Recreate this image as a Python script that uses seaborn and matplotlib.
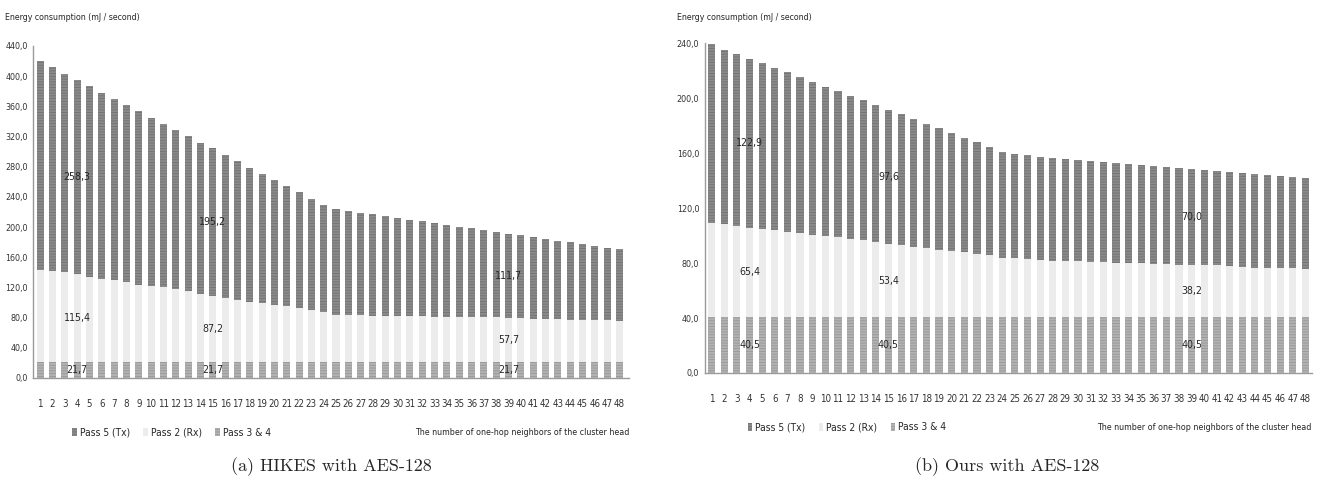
import matplotlib
matplotlib.use("Agg")
import matplotlib.pyplot as plt
import seaborn as sns
import pandas as pd
import numpy as np
from matplotlib.patches import Patch

# x categories: number of one-hop neighbours
neighbors = [str(i) for i in range(1, 49)]

# (a) HIKES with AES-128 (mJ / second)
hikes_tx = [276.2, 269.5, 263.3, 258.3, 252.7, 246.5, 240.3, 234.6, 229.7, 223.6,
            216.5, 210.3, 204.6, 200.6, 195.2, 189.1, 183.3, 178.0, 171.4, 165.7,
            159.1, 153.3, 147.1, 142.3, 140.5, 138.2, 136.1, 134.7, 132.1, 130.0,
            128.1, 125.9, 124.2, 121.6, 119.7, 118.0, 115.4, 113.1, 111.7, 110.0,
            107.8, 106.0, 104.3, 102.4, 99.8, 97.6, 95.9, 95.3]
hikes_rx = [121.8, 120.5, 118.3, 115.4, 112.1, 109.5, 107.7, 105.5, 102.0, 99.7,
            98.4, 96.2, 94.0, 89.6, 87.2, 84.7, 82.1, 79.0, 77.7, 75.0,
            73.2, 71.0, 68.8, 65.7, 62.2, 61.8, 61.3, 60.9, 60.9, 60.4,
            60.0, 60.0, 59.5, 59.5, 59.1, 59.1, 59.1, 58.7, 57.7, 57.3,
            56.9, 56.5, 56.0, 55.6, 55.6, 55.1, 54.7, 53.4]
hikes_p34 = [21.7, 21.7, 21.7, 21.7, 21.7, 21.7, 21.7, 21.7, 21.7, 21.7,
             21.7, 21.7, 21.7, 21.7, 21.7, 21.7, 21.7, 21.7, 21.7, 21.7,
             21.7, 21.7, 21.7, 21.7, 21.7, 21.7, 21.7, 21.7, 21.7, 21.7,
             21.7, 21.7, 21.7, 21.7, 21.7, 21.7, 21.7, 21.7, 21.7, 21.7,
             21.7, 21.7, 21.7, 21.7, 21.7, 21.7, 21.7, 21.7]

# (b) Ours with AES-128
ours_tx = [130.0, 127.2, 125.1, 122.9, 120.5, 118.3, 116.1, 113.7, 111.3, 108.9,
           106.4, 104.2, 102.0, 99.6, 97.6, 95.3, 93.1, 90.7, 88.3, 86.3,
           83.6, 81.2, 79.0, 77.1, 75.9, 75.8, 75.4, 75.2, 74.6, 74.2,
           73.7, 73.2, 73.0, 72.5, 72.0, 71.5, 71.0, 70.6, 70.0, 69.4,
           69.1, 68.6, 68.7, 68.4, 67.9, 67.4, 66.9, 66.7]
ours_rx = [68.8, 67.9, 66.9, 65.4, 64.5, 63.3, 62.3, 61.3, 60.3, 59.1,
           58.2, 57.0, 56.0, 54.8, 53.4, 52.6, 51.4, 50.4, 49.4, 48.2,
           47.3, 46.3, 45.1, 43.6, 42.9, 42.2, 41.7, 41.2, 41.0, 40.7,
           40.5, 40.2, 39.7, 39.5, 39.3, 39.0, 38.8, 38.5, 38.2, 38.0,
           37.8, 37.3, 36.8, 36.3, 36.1, 35.9, 35.6, 35.1]
ours_p34 = [40.5, 40.5, 40.5, 40.5, 40.5, 40.5, 40.5, 40.5, 40.5, 40.5,
            40.5, 40.5, 40.5, 40.5, 40.5, 40.5, 40.5, 40.5, 40.5, 40.5,
            40.5, 40.5, 40.5, 40.5, 40.5, 40.5, 40.5, 40.5, 40.5, 40.5,
            40.5, 40.5, 40.5, 40.5, 40.5, 40.5, 40.5, 40.5, 40.5, 40.5,
            40.5, 40.5, 40.5, 40.5, 40.5, 40.5, 40.5, 40.5]

hikes_yticks = [0, 40, 80, 120, 160, 200, 240, 280, 320, 360, 400, 440]
ours_yticks = [0, 40, 80, 120, 160, 200, 240]
labelled_bars = [3, 14, 38]  # bars 4, 15 and 39 carry value labels

series_names = ["Pass 5 (Tx)", "Pass 2 (Rx)", "Pass 3 & 4"]
ylabel = "Energy consumption (mJ / second)"
xlabel = "The number of one-hop neighbors of the cluster head"
captions = ["(a) HIKES with AES-128", "(b) Ours with AES-128"]

sns.set_style("white")
plt.rcParams["hatch.linewidth"] = 0.6
plt.rcParams["font.family"] = ["DejaVu Sans"]
plt.rcParams["font.stretch"] = "condensed"

DARK, DARK_H = "#8a8a8a", "#727272"
LIGHT = "#ececec"
MIDG, MIDG_H = "#b2b2b2", "#979797"


def comma(v):
    return f"{v:.1f}".replace(".", ",")


def draw(ax, tx, rx, p34, yticks, xlim, legend_x):
    tx, rx, p34 = np.array(tx), np.array(rx), np.array(p34)
    df = pd.DataFrame({"n": neighbors, "total": tx + rx + p34,
                       "mid": rx + p34, "low": p34})
    sns.barplot(data=df, x="n", y="total", color=DARK, saturation=1, width=0.57,
                hatch="------", edgecolor=DARK_H, linewidth=0, ax=ax)
    sns.barplot(data=df, x="n", y="mid", color=LIGHT, saturation=1, width=0.57,
                edgecolor=LIGHT, linewidth=0, ax=ax)
    sns.barplot(data=df, x="n", y="low", color=MIDG, saturation=1, width=0.57,
                hatch="------", edgecolor=MIDG_H, linewidth=0, ax=ax)
    for i in labelled_bars:
        ax.text(i, p34[i] / 2, comma(p34[i]), ha="center", va="center", fontsize=7.6)
        ax.text(i, p34[i] + rx[i] / 2, comma(rx[i]), ha="center", va="center",
                fontsize=7.6)
        ax.text(i, p34[i] + rx[i] + tx[i] / 2, comma(tx[i]), ha="center", va="center",
                fontsize=7.6)
    ax.set_ylim(yticks[0], yticks[-1])
    ax.set_yticks(yticks)
    ax.set_yticklabels([comma(t) for t in yticks], fontsize=6.4, color="#333333")
    ax.set_xlim(*xlim)
    ax.tick_params(axis="x", labelsize=7, colors="#333333", length=0, pad=15)
    ax.tick_params(axis="y", length=0, pad=4)
    ax.set_xlabel("")
    ax.set_ylabel("")
    sns.despine(ax=ax)
    for s in ["left", "bottom"]:
        ax.spines[s].set_color("#9a9a9a")
        ax.spines[s].set_linewidth(1.0)

    handles = [Patch(facecolor=DARK, hatch="------", edgecolor=DARK_H, linewidth=0),
               Patch(facecolor=LIGHT, edgecolor=LIGHT, linewidth=0),
               Patch(facecolor=MIDG, hatch="------", edgecolor=MIDG_H, linewidth=0)]
    ax.legend(handles, series_names, ncol=3, frameon=False, loc="upper left",
              bbox_to_anchor=(legend_x, -0.122), handlelength=0.45, handleheight=0.9,
              handletextpad=0.3, columnspacing=1.3, fontsize=7.4)
    ax.text(1.0, -0.165, xlabel, transform=ax.transAxes, ha="right", va="center",
            fontsize=6.4)


fig = plt.figure(figsize=(13.25, 4.94), dpi=100)
ax1 = fig.add_axes([0.025, 0.235, 0.45, 0.672])
ax2 = fig.add_axes([0.532, 0.245, 0.458, 0.667])

draw(ax1, hikes_tx, hikes_rx, hikes_p34, hikes_yticks, (-0.57, 47.8), 0.05)
draw(ax2, ours_tx, ours_rx, ours_p34, ours_yticks, (-0.53, 47.5), 0.055)

fig.text(0.004, 0.965, ylabel, ha="left", va="center", fontsize=6.3)
fig.text(0.511, 0.965, ylabel, ha="left", va="center", fontsize=6.3)
fig.text(0.25, 0.055, captions[0], ha="center", va="center", fontsize=13,
         family="cmr10")
fig.text(0.76, 0.055, captions[1], ha="center", va="center", fontsize=13,
         family="cmr10")

fig.savefig("out.png", dpi=100)
